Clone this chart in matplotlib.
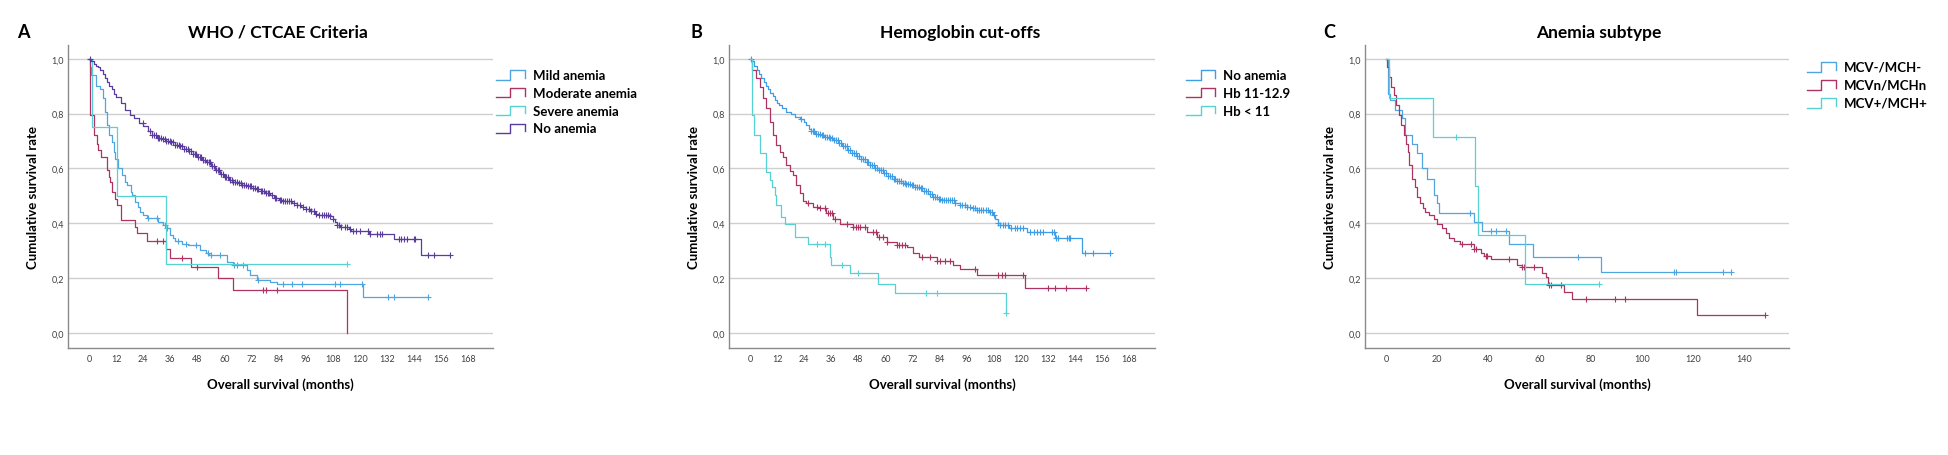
import numpy as np
import matplotlib
matplotlib.use("Agg")
import matplotlib.pyplot as plt
from matplotlib.ticker import FuncFormatter
from matplotlib.legend_handler import HandlerBase
from matplotlib.lines import Line2D

plt.rcParams['font.family'] = ['Lato', 'DejaVu Sans']

# ---------------- Panel A: WHO / CTCAE criteria ----------------
a_mild_t = [0, 0.5, 1, 3, 5, 6, 7, 7.8, 9, 10, 11, 11.5, 13, 14.5, 16, 17, 18.5, 19, 20.4, 21.5,
            22.6, 24, 25.6, 30.7, 33, 34.4, 35.9, 37, 38.1, 41, 44, 49.2, 52, 53, 61, 64, 70,
            71.3, 74.3, 80, 83.2, 121.5, 150.3]
a_mild_s = [1.0, 0.97, 0.94, 0.90, 0.89, 0.855, 0.807, 0.758, 0.72, 0.697, 0.66, 0.636, 0.60,
            0.575, 0.55, 0.539, 0.515, 0.502, 0.478, 0.46, 0.44, 0.43, 0.418, 0.405, 0.393,
            0.381, 0.356, 0.345, 0.335, 0.326, 0.32, 0.302, 0.29, 0.283, 0.26, 0.247, 0.229,
            0.21, 0.192, 0.185, 0.178, 0.131, 0.131]
a_mild_c = [26.3, 30, 33.7, 34.4, 39.6, 43, 47.4, 52.9, 53.9, 58, 64.2, 65.4, 68.4, 75, 86.1,
            89.8, 94.2, 109, 111.2, 121, 132.3, 135.3, 150.3]

a_mod_t = [0, 0.5, 2.2, 3.5, 4.1, 5.2, 8.1, 9, 9.3, 10, 11.5, 12.6, 14, 20.4, 21.1, 25.6, 34,
           35.9, 45, 57.3, 64, 114.2, 114.2]
a_mod_s = [1.0, 0.795, 0.72, 0.69, 0.667, 0.642, 0.594, 0.57, 0.551, 0.515, 0.49, 0.466, 0.411,
           0.387, 0.363, 0.335, 0.305, 0.274, 0.241, 0.20, 0.158, 0.0, 0.0]
a_mod_c = [30, 33, 41, 48, 77.3, 78.3, 83.2]

a_sev_t = [0, 1.2, 12.3, 34, 114.2]
a_sev_s = [1.0, 0.75, 0.50, 0.25, 0.25]
a_sev_c = [114.2]

a_none_t = [0, 1, 2, 3, 4, 5, 6, 7, 8, 9, 10, 11, 12, 14, 16, 18, 20, 22, 24, 26, 28, 30, 32,
            34, 36, 38, 40, 42, 44, 46, 48, 50, 52, 54, 56, 58, 60, 62, 64, 66, 68, 70, 72, 74,
            76, 78, 80, 82, 84, 86, 90, 92, 94, 96, 98, 100, 102, 107, 108, 109, 110, 111, 115,
            116, 124, 135, 147, 160]
a_none_s = [1.0, 0.99, 0.98, 0.975, 0.968, 0.96, 0.945, 0.93, 0.915, 0.90, 0.888, 0.873, 0.86,
            0.838, 0.812, 0.795, 0.782, 0.765, 0.755, 0.735, 0.72, 0.712, 0.706, 0.70, 0.695,
            0.687, 0.68, 0.672, 0.664, 0.652, 0.642, 0.632, 0.622, 0.61, 0.595, 0.58, 0.568,
            0.558, 0.552, 0.546, 0.54, 0.535, 0.53, 0.525, 0.518, 0.51, 0.502, 0.493, 0.483,
            0.48, 0.475, 0.465, 0.458, 0.452, 0.445, 0.435, 0.43, 0.425, 0.415, 0.405, 0.395,
            0.387, 0.378, 0.372, 0.36, 0.344, 0.283, 0.283]
a_none_c = [0.3, 23.8, 27.2, 28.0, 28.9, 29.6, 30.4, 31.1, 31.9, 32.6, 33.5, 34.1, 35.0, 35.8,
            36.5, 37.3, 38.2, 38.9, 39.7, 40.4, 41.3, 42.0, 42.8, 43.7, 44.3, 45.1, 46.0, 46.8,
            47.5, 48.3, 49.1, 49.8, 50.7, 51.4, 52.2, 53.1, 53.8, 54.6, 55.3, 56.2, 57.0, 57.7,
            58.5, 59.4, 60.1, 60.9, 61.8, 62.5, 63.3, 64.0, 64.9, 65.6, 66.4, 67.3, 68.0, 68.8,
            69.5, 70.4, 71.2, 71.9, 72.8, 73.5, 74.3, 75.1, 76.0, 76.7, 77.5, 78.4, 79.1, 79.9,
            81.0, 82.3, 83.0, 84.5, 85.2, 86.0, 86.9, 87.6, 88.4, 89.5, 91.0, 92.3, 93.6, 95.0,
            96.2, 97.4, 98.5, 99.6, 100.8, 102.0, 103.2, 104.1, 105.0, 106.0, 107.0, 108.0,
            110.0, 110.8, 111.6, 113.4, 114.2, 115.5, 117.0, 118.4, 120.0, 123.5, 124.3, 127.6,
            129.0, 129.8, 137.3, 138.2, 139.5, 141.0, 143.8, 144.6, 150.2, 153.0, 159.9]

# ---------------- Panel B: hemoglobin cut-offs ----------------
b_none_t = [0, 1, 2, 3, 4, 5, 6, 7, 8, 9, 10, 11, 12, 13, 14, 16, 18, 20, 22, 24, 25, 26, 27,
            29, 31, 33, 35, 37, 39, 41, 43, 45, 47, 49, 51, 53, 55, 57, 59, 61, 63, 65, 67, 69,
            71, 73, 75, 77, 79, 81, 83, 85, 91, 93, 96, 99, 100.4, 106, 107.5, 108.5, 110, 111,
            115, 122.6, 135, 147, 159.6]
b_none_s = [1.0, 0.99, 0.975, 0.96, 0.945, 0.93, 0.915, 0.90, 0.89, 0.875, 0.863, 0.85, 0.84,
            0.83, 0.82, 0.807, 0.797, 0.788, 0.779, 0.77, 0.758, 0.745, 0.735, 0.726, 0.72,
            0.715, 0.71, 0.703, 0.692, 0.68, 0.668, 0.656, 0.645, 0.634, 0.623, 0.612, 0.602,
            0.595, 0.584, 0.573, 0.563, 0.555, 0.548, 0.542, 0.538, 0.532, 0.527, 0.518, 0.506,
            0.495, 0.487, 0.483, 0.475, 0.466, 0.46, 0.454, 0.448, 0.44, 0.43, 0.417, 0.40,
            0.393, 0.381, 0.369, 0.347, 0.29, 0.29]
b_none_c = [0.3, 22.8, 27.0, 27.8, 28.5, 29.3, 30.2, 30.9, 31.7, 32.5, 33.2, 34.1, 34.8, 35.6,
            36.5, 37.2, 38.0, 38.9, 39.6, 40.4, 41.2, 42.1, 42.8, 43.6, 44.5, 45.2, 46.0, 46.9,
            47.6, 48.4, 49.3, 50.0, 50.8, 51.7, 52.4, 53.2, 54.1, 54.8, 55.6, 56.5, 57.2, 58.0,
            58.9, 59.6, 60.4, 61.3, 62.0, 62.8, 63.7, 64.4, 65.2, 66.1, 66.8, 67.6, 68.5, 69.2,
            70.0, 70.9, 71.6, 72.4, 73.3, 74.0, 74.8, 75.7, 76.4, 77.2, 78.1, 78.8, 79.6, 80.5,
            81.2, 82.0, 82.9, 83.6, 84.4, 85.3, 86.0, 86.8, 87.7, 88.5, 89.4, 90.2, 91.0, 93.0,
            94.0, 95.1, 96.3, 97.4, 99.0, 99.8, 100.6, 101.5, 102.3, 103.4, 104.5, 105.3, 106.2,
            107.1, 108.0, 110.0, 111.0, 112.0, 113.2, 114.5, 115.6, 117.4, 118.5, 119.8, 121.1,
            124.0, 126.0, 127.3, 128.5, 130.0, 133.7, 134.6, 135.6, 136.6, 140.4, 141.2, 141.8,
            148.4, 152.1, 159.6]

b_mid_t = [0, 1, 2.8, 4.3, 5.8, 7.3, 8.7, 10.2, 11.7, 13.2, 14.7, 16.1, 17.6, 19.1, 20.6, 22.1,
           23.3, 25, 28, 31, 33.9, 36.9, 39.9, 45.8, 51.7, 56.1, 60.6, 65, 69.5, 72.4, 74.7,
           82.8, 90, 93, 100.4, 121.8, 149.1]
b_mid_s = [1.0, 0.96, 0.928, 0.898, 0.855, 0.819, 0.77, 0.721, 0.685, 0.66, 0.642, 0.612, 0.59,
           0.575, 0.539, 0.509, 0.48, 0.472, 0.46, 0.454, 0.436, 0.417, 0.399, 0.387, 0.369,
           0.35, 0.332, 0.32, 0.314, 0.293, 0.277, 0.262, 0.247, 0.232, 0.21, 0.164, 0.164]
b_mid_c = [25.8, 29.5, 31, 33.2, 34.7, 35.6, 36.5, 37.6, 42.8, 45.8, 46.8, 47.7, 48.7, 51,
           54.7, 55.9, 57.2, 59.1, 60.6, 65, 66.2, 67.4, 68.7, 76.1, 79.9, 82.8, 84.1, 86.5,
           88.5, 99.6, 110, 111.5, 113, 121.1, 132.2, 135.2, 140.1, 149.1]

b_low_t = [0, 1, 2, 4.3, 7.3, 8.7, 9.9, 11, 11.7, 13.9, 15.7, 19.9, 25.8, 35.4, 36.1, 44.3,
           56.9, 64.3, 113.5, 113.6]
b_low_s = [1.0, 0.794, 0.72, 0.655, 0.588, 0.557, 0.533, 0.502, 0.466, 0.423, 0.397, 0.35,
           0.326, 0.277, 0.247, 0.217, 0.18, 0.144, 0.073, 0.073]
b_low_c = [29.5, 33.2, 40.6, 48, 78, 83.1, 113.6]

# ---------------- Panel C: anemia subtype ----------------
c_micro_t = [0, 0.7, 1.7, 3.7, 6.3, 7.6, 10.2, 12.2, 13.9, 16.1, 18.7, 20, 20.9, 34.4, 37.6,
             48.1, 57.3, 84.1, 134.9]
c_micro_s = [1.0, 0.873, 0.849, 0.813, 0.782, 0.721, 0.69, 0.655, 0.60, 0.563, 0.502, 0.472,
             0.438, 0.405, 0.371, 0.326, 0.277, 0.223, 0.223]
c_micro_c = [33, 40.9, 42.9, 47.1, 74.9, 112.7, 113.5, 131.6, 134.9]

c_normo_t = [0, 0.4, 1, 2, 3, 4, 5, 5.9, 6.9, 7.8, 8.5, 9.2, 10.2, 11.2, 12.2, 13.5, 14.5,
             15.4, 16.7, 18.7, 20, 22, 23.3, 24.6, 26.5, 29, 34.4, 37, 38.5, 40.9, 51.4, 53,
             61.2, 62.5, 63.4, 69.7, 72.9, 121.6, 148.3]
c_normo_s = [1.0, 0.97, 0.934, 0.898, 0.867, 0.83, 0.794, 0.758, 0.721, 0.69, 0.66, 0.612,
             0.563, 0.533, 0.496, 0.472, 0.454, 0.442, 0.429, 0.417, 0.399, 0.381, 0.363,
             0.347, 0.335, 0.326, 0.305, 0.29, 0.28, 0.269, 0.247, 0.241, 0.217, 0.204, 0.176,
             0.15, 0.125, 0.064, 0.064]
c_normo_c = [29.8, 33.1, 34.6, 35.2, 39, 39.6, 48.1, 53.3, 54, 57.9, 63.8, 64.4, 68.4, 78.2,
             89.7, 93.6, 148.3]

c_macro_t = [0, 1, 18.3, 35, 35.9, 54.4, 83.4]
c_macro_s = [1.0, 0.857, 0.714, 0.536, 0.357, 0.178, 0.178]
c_macro_c = [27.2, 83.4]

titles = ['WHO / CTCAE Criteria', 'Hemoglobin cut-offs', 'Anemia subtype']
letters = ['A', 'B', 'C']

BLUE = '#4ea5e2'
RED = '#ad3462'
TURQ = '#56d2d3'
PURPLE = '#5a3c9e'


class StepHandler(HandlerBase):
    # little "_|-|" step icon like the SPSS legend
    def create_artists(self, legend, orig_handle, xdescent, ydescent, width, height,
                       fontsize, trans):
        x0, y0 = -xdescent, -ydescent - 0.1 * height
        h = height * 1.05
        xs = [x0, x0 + 0.5 * width, x0 + 0.5 * width, x0 + width, x0 + width]
        ys = [y0, y0, y0 + h, y0 + h, y0 + 0.2 * h]
        ln = Line2D(xs, ys, color=orig_handle.get_color(), lw=1.0)
        ln.set_transform(trans)
        return [ln]


def km(ax, t, s, cens, color, label):
    t = np.asarray(t, float)
    s = np.asarray(s, float)
    ln, = ax.step(t, s, where='post', color=color, lw=0.9, label=label)
    cens = np.asarray(cens, float)
    idx = np.searchsorted(t, cens, side='right') - 1
    ax.plot(cens, s[idx], ls='none', marker='+', ms=4.5, mew=0.8, color=color)
    return ln


fig = plt.figure(figsize=(19.48, 4.56), dpi=100)
W, H = 1948.0, 456.0
# axes boxes in pixels: left, right
boxes = [(68, 493), (729, 1155), (1365, 1789)]
top, bottom = 46, 349
axes = []
for (l, r) in boxes:
    ax = fig.add_axes([l / W, 1 - bottom / H, (r - l) / W, (bottom - top) / H])
    axes.append(ax)

# panel A
ax = axes[0]
hA = [km(ax, a_mild_t, a_mild_s, a_mild_c, BLUE, 'Mild anemia'),
      km(ax, a_mod_t, a_mod_s, a_mod_c, RED, 'Moderate anemia'),
      km(ax, a_sev_t, a_sev_s, a_sev_c, TURQ, 'Severe anemia'),
      km(ax, a_none_t, a_none_s, a_none_c, PURPLE, 'No anemia')]
ax.set_xlim(-9.3, 179)
ax.set_xticks(np.arange(0, 169, 12))

# panel B
ax = axes[1]
hB = [km(ax, b_none_t, b_none_s, b_none_c, '#3f9de6', 'No anemia'),
      km(ax, b_mid_t, b_mid_s, b_mid_c, RED, 'Hb 11-12.9'),
      km(ax, b_low_t, b_low_s, b_low_c, TURQ, 'Hb < 11')]
ax.set_xlim(-9.3, 179.5)
ax.set_xticks(np.arange(0, 169, 12))

# panel C
ax = axes[2]
hC = [km(ax, c_micro_t, c_micro_s, c_micro_c, BLUE, 'MCV-/MCH-'),
      km(ax, c_normo_t, c_normo_s, c_normo_c, RED, 'MCVn/MCHn'),
      km(ax, c_macro_t, c_macro_s, c_macro_c, TURQ, 'MCV+/MCH+')]
ax.set_xlim(-8.2, 157.6)
ax.set_xticks(np.arange(0, 141, 20))

leg_pos = [(1.007, 0.922), (1.073, 0.922), (1.042, 0.948)]
title_x = [278, 960, 1599]
letter_x = [23, 696, 1329]
handles = [hA, hB, hC]

for i, ax in enumerate(axes):
    ax.set_ylim(-0.055, 1.05)
    ax.set_yticks([0, 0.2, 0.4, 0.6, 0.8, 1.0])
    ax.yaxis.set_major_formatter(FuncFormatter(lambda v, _: f"{v:.1f}".replace('.', ',')))
    ax.yaxis.grid(True, color='#cfcfcf', lw=1.0)
    ax.set_axisbelow(True)
    for sp in ['top', 'right']:
        ax.spines[sp].set_visible(False)
    for sp in ['left', 'bottom']:
        ax.spines[sp].set_color('#8a8a8a')
        ax.spines[sp].set_linewidth(1.0)
    ax.tick_params(axis='both', length=0, labelsize=6.5, labelcolor='#404040')
    ax.tick_params(axis='x', pad=4.5)
    ax.tick_params(axis='y', pad=3)
    ax.text(-0.0824, 0.5, 'Cumulative survival rate', transform=ax.transAxes, rotation=90,
            ha='center', va='center', fontsize=9.5, fontweight='bold')
    ax.text(0.5, -0.119, 'Overall survival (months)', transform=ax.transAxes,
            ha='center', va='center', fontsize=9.5, fontweight='bold')
    ax.legend(handles=handles[i], loc='upper left', bbox_to_anchor=leg_pos[i],
              frameon=False, prop={'weight': 'bold', 'size': 9.5},
              handler_map={Line2D: StepHandler()}, handlelength=2.2, handletextpad=0.6,
              labelspacing=0.45, borderaxespad=0, borderpad=0)
    fig.text(title_x[i] / W, 1 - 33 / H, titles[i], ha='center', va='center',
             fontsize=12.5, fontweight='bold')
    fig.text(letter_x[i] / W, 1 - 33 / H, letters[i], ha='center', va='center',
             fontsize=13, fontweight='bold')

fig.savefig('out.png', dpi=100)
